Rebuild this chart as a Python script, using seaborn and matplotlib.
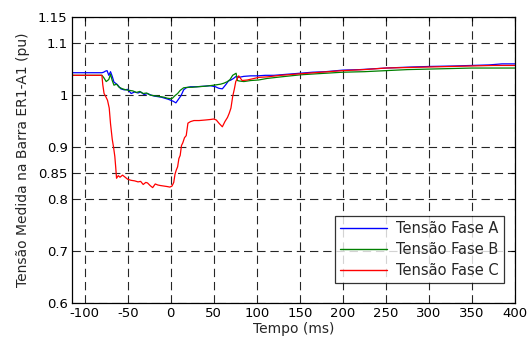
import pandas as pd
import seaborn as sns
import matplotlib.pyplot as plt
import numpy as np

# valores (tempo em ms, tensão em pu)
t_a = [-115, -80, -78, -76, -74, -72, -70, -68, -66, -62, -58, -54, -50, -46, -42, -38,
       -35, -31, -27, -23, -19, -15, -11, -7, -3, 0, 3, 6, 9, 12, 15, 18, 23, 30, 38,
       46, 52, 56, 60, 64, 67, 70, 73, 76, 79, 85, 93, 101, 110, 120, 135, 150, 165,
       180, 200, 220, 250, 280, 300, 330, 350, 370, 385, 400]
v_a = [1.043, 1.043, 1.044, 1.046, 1.047, 1.038, 1.045, 1.036, 1.025, 1.020, 1.012,
       1.010, 1.011, 1.003, 1.006, 1.004, 1.006, 1.001, 1.003, 1.000, 0.998, 0.997,
       0.996, 0.994, 0.992, 0.990, 0.988, 0.985, 0.992, 0.999, 1.010, 1.014, 1.016,
       1.016, 1.017, 1.018, 1.016, 1.013, 1.012, 1.020, 1.027, 1.029, 1.032, 1.036,
       1.034, 1.036, 1.037, 1.037, 1.038, 1.038, 1.040, 1.042, 1.044, 1.045, 1.048,
       1.049, 1.052, 1.054, 1.055, 1.056, 1.057, 1.058, 1.060, 1.060]

t_b = [-115, -80, -78, -75, -72, -70, -68, -66, -63, -60, -56, -52, -48, -44, -40,
       -36, -32, -28, -24, -20, -16, -12, -8, -4, 0, 2, 5, 8, 11, 15, 20, 25, 31, 40,
       50, 58, 62, 66, 69, 72, 74, 76, 77.5, 80, 85, 93, 102, 112, 128, 151, 170, 200,
       225, 250, 275, 300, 325, 350, 375, 400]
v_b = [1.038, 1.038, 1.034, 1.026, 1.030, 1.040, 1.028, 1.019, 1.021, 1.015, 1.012,
       1.010, 1.009, 1.008, 1.005, 1.007, 1.003, 1.004, 1.000, 0.999, 0.998, 0.997,
       0.996, 0.994, 0.993, 0.994, 0.999, 1.003, 1.009, 1.014, 1.015, 1.015, 1.016,
       1.017, 1.019, 1.021, 1.023, 1.026, 1.030, 1.038, 1.040, 1.042, 1.028, 1.027,
       1.026, 1.028, 1.029, 1.032, 1.035, 1.039, 1.041, 1.044, 1.045, 1.047, 1.049,
       1.050, 1.051, 1.052, 1.052, 1.052]

t_c = [-115, -80, -79, -77.5, -75.5, -73.5, -71.5, -70, -68, -66.5, -65, -64, -63,
       -61, -59, -56, -53, -50, -46, -42, -38, -35, -32, -29, -27, -24, -21, -18,
       -15, -12, -8, -4, -1, 1.5, 3.5, 5, 6.5, 8, 9.5, 11, 12.5, 14, 16, 18, 20, 23,
       27, 33, 40, 46, 50, 53, 56, 60, 63, 66, 68, 70, 72, 74, 75.6, 77.5, 79, 83,
       89, 97, 102, 112, 128, 151, 175, 200, 225, 250, 275, 300, 325, 350, 375, 400]
v_c = [1.038, 1.038, 1.020, 1.003, 0.997, 0.990, 0.975, 0.945, 0.915, 0.900, 0.882,
       0.862, 0.840, 0.845, 0.842, 0.846, 0.842, 0.838, 0.836, 0.835, 0.833, 0.834,
       0.828, 0.832, 0.831, 0.826, 0.822, 0.829, 0.827, 0.826, 0.825, 0.824, 0.823,
       0.825, 0.832, 0.848, 0.856, 0.862, 0.878, 0.884, 0.903, 0.908, 0.918, 0.922,
       0.946, 0.949, 0.951, 0.951, 0.952, 0.953, 0.954, 0.952, 0.946, 0.939, 0.949,
       0.957, 0.965, 0.975, 0.997, 1.012, 1.026, 1.032, 1.037, 1.028, 1.029, 1.032,
       1.034, 1.035, 1.038, 1.041, 1.044, 1.047, 1.049, 1.052, 1.053, 1.054, 1.055,
       1.056, 1.057, 1.057]

series = ["Tensão Fase A", "Tensão Fase B", "Tensão Fase C"]
colors = ["#0000ff", "#008000", "#ff0000"]

xticks = [-100, -50, 0, 50, 100, 150, 200, 250, 300, 350, 400]
yticks = [0.6, 0.7, 0.8, 0.85, 0.9, 1.0, 1.1, 1.15]
ytick_labels = ["0.6", "0.7", "0.8", "0.85", "0.9", "1", "1.1", "1.15"]

df = pd.concat([
    pd.DataFrame({"t": t_a, "v": v_a, "fase": series[0]}),
    pd.DataFrame({"t": t_b, "v": v_b, "fase": series[1]}),
    pd.DataFrame({"t": t_c, "v": v_c, "fase": series[2]}),
], ignore_index=True)

sns.set_theme(style="white")
plt.rcParams["font.family"] = ["DejaVu Sans"]
plt.rcParams["lines.scale_dashes"] = False

fig = plt.figure(figsize=(5.28, 3.42), dpi=100)
ax = fig.add_axes([0.136, 0.114, 0.839, 0.836])

sns.lineplot(data=df, x="t", y="v", hue="fase", palette=colors,
             estimator=None, sort=False, linewidth=0.9, ax=ax)

ax.set_xlim(-115, 400)
ax.set_ylim(0.6, 1.15)
ax.set_xticks(xticks)
ax.set_xticklabels([str(x) for x in xticks])
ax.set_yticks(yticks)
ax.set_yticklabels(ytick_labels)
ax.grid(True, color="0.15", linestyle=(0, (6, 3.5)), linewidth=0.8)
ax.set_axisbelow(True)

ax.tick_params(direction="in", length=3, width=0.8, labelsize=9.5, colors="black",
               top=True, right=True, pad=3)
for s in ax.spines.values():
    s.set_color("black")
    s.set_linewidth(0.9)

ax.set_xlabel("Tempo (ms)", fontsize=10, labelpad=1)
ax.set_ylabel("Tensão Medida na Barra ER1-A1 (pu)", fontsize=10, labelpad=6)

leg = ax.legend(loc="lower right", bbox_to_anchor=(0.991, 0.044), fontsize=10.5,
                handlelength=3.2, frameon=True, fancybox=False, borderpad=0.35,
                labelspacing=0.42, handletextpad=0.6)
leg.get_frame().set_edgecolor("black")
leg.get_frame().set_linewidth(0.9)
for line in leg.get_lines():
    line.set_linewidth(1.0)

fig.savefig("out.png", dpi=100)
